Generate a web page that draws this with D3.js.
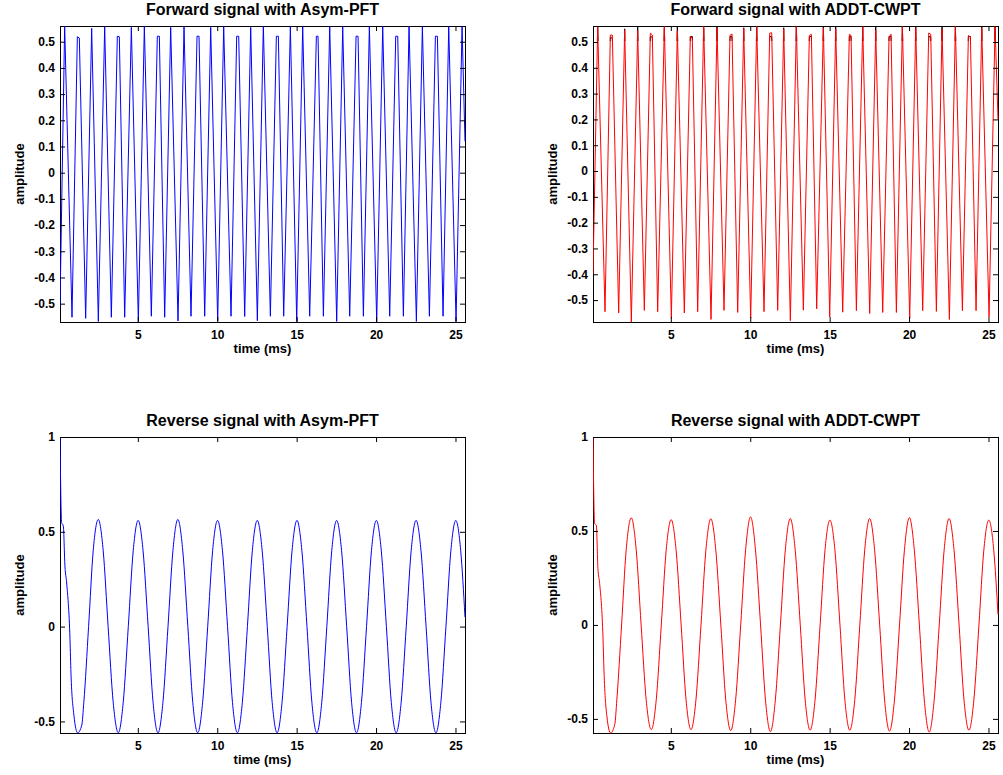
<!DOCTYPE html>
<html>
<head>
<meta charset="utf-8">
<script src="https://d3js.org/d3.v7.min.js"></script>
<style>
  body { margin: 0; background: #fff; }
  text { font-family: Arial, "Liberation Sans", Helvetica, sans-serif; }
</style>
</head>
<body>
<div id="chart"></div>
<script>
// Forward signal: vertices (peaks / troughs), time in ms
var fwdTime = [0.1, 0.394, 0.856, 1.192, 1.317, 1.716, 2.094, 2.514, 2.913, 3.332,
  3.710, 3.836, 4.172, 4.592, 5.033, 5.411, 5.851, 6.229, 6.355, 6.691,
  7.069, 7.531, 7.909, 8.349, 8.727, 8.853, 9.210, 9.588, 10.029, 10.407,
  10.868, 11.225, 11.351, 11.729, 12.107, 12.526, 12.904, 13.345, 13.723, 13.849,
  14.185, 14.605, 15.004, 15.381, 15.822, 16.242, 16.347, 16.683, 17.082, 17.522,
  17.900, 18.341, 18.740, 18.866, 19.202, 19.579, 20.041, 20.419, 20.860, 21.238,
  21.364, 21.720, 22.077, 22.539, 22.917, 23.358, 23.736, 23.862, 24.218, 24.575,
  25.037, 25.415, 25.6];

// original / Asym-PFT reconstruction (identical)
var fwdAsym = [-0.51, 0.561, -0.552, 0.519, 0.514, -0.556, 0.551, -0.568, 0.558, -0.552,
  0.521, 0.519, -0.552, 0.555, -0.568, 0.561, -0.548, 0.521, 0.521, -0.552,
  0.555, -0.566, 0.558, -0.548, 0.521, 0.521, -0.548, 0.555, -0.566, 0.558,
  -0.548, 0.521, 0.521, -0.549, 0.555, -0.565, 0.561, -0.548, 0.521, 0.521,
  -0.548, 0.558, -0.568, 0.558, -0.548, 0.521, 0.521, -0.548, 0.558, -0.568,
  0.558, -0.548, 0.521, 0.521, -0.548, 0.558, -0.568, 0.558, -0.548, 0.521,
  0.521, -0.548, 0.558, -0.568, 0.558, -0.548, 0.521, 0.521, -0.548, 0.558,
  -0.568, 0.558, 0.12];

// ADDT-CWPT reconstruction
var fwdAddt = [-0.40, 0.559, -0.545, 0.527, 0.527, -0.550, 0.547, -0.585, 0.544, -0.540,
  0.534, 0.527, -0.545, 0.560, -0.570, 0.544, -0.550, 0.523, 0.513, -0.545,
  0.560, -0.575, 0.555, -0.540, 0.526, 0.531, -0.548, 0.552, -0.570, 0.560,
  -0.545, 0.534, 0.536, -0.540, 0.550, -0.580, 0.560, -0.539, 0.525, 0.530,
  -0.534, 0.555, -0.565, 0.550, -0.547, 0.530, 0.525, -0.541, 0.560, -0.552,
  0.545, -0.548, 0.520, 0.530, -0.548, 0.560, -0.571, 0.555, -0.541, 0.535,
  0.530, -0.544, 0.550, -0.575, 0.560, -0.541, 0.525, 0.520, -0.541, 0.555,
  -0.565, 0.560, 0.20];

// Reverse signal: points, time in ms
var revTime = [0.10, 0.20, 0.31, 0.41, 0.52, 0.73, 0.79, 0.98, 1.21,
  1.47, 1.60, 1.90, 2.19, 2.51, 2.82, 3.13, 3.45, 3.77, 4.08,
  4.40, 4.71, 5.02, 5.33, 5.65, 5.96, 6.27, 6.58, 6.90, 7.21,
  7.52, 7.83, 8.15, 8.46, 8.77, 9.08, 9.40, 9.71, 10.02, 10.33,
  10.65, 10.96, 11.27, 11.58, 11.90, 12.21, 12.52, 12.83, 13.15, 13.46,
  13.77, 14.08, 14.40, 14.71, 15.02, 15.33, 15.65, 15.96, 16.27, 16.58,
  16.90, 17.21, 17.52, 17.83, 18.15, 18.46, 18.77, 19.08, 19.40, 19.71,
  20.02, 20.33, 20.65, 20.96, 21.27, 21.58, 21.90, 22.21, 22.52, 22.83,
  23.15, 23.46, 23.77, 24.08, 24.40, 24.71, 25.02, 25.33, 25.60];

var revAsym = [1.00, 0.55, 0.53, 0.32, 0.23, -0.07, -0.245, -0.47, -0.56,
  -0.52, -0.40, 0.0, 0.40, 0.565, 0.40, 0.0, -0.40, -0.56, -0.40,
  0.0, 0.40, 0.56, 0.40, 0.0, -0.40, -0.56, -0.40, 0.0, 0.40,
  0.565, 0.40, 0.0, -0.40, -0.56, -0.40, 0.0, 0.40, 0.56, 0.40,
  0.0, -0.40, -0.56, -0.40, 0.0, 0.40, 0.56, 0.40, 0.0, -0.40,
  -0.56, -0.40, 0.0, 0.40, 0.56, 0.40, 0.0, -0.40, -0.56, -0.40,
  0.0, 0.40, 0.56, 0.40, 0.0, -0.40, -0.56, -0.40, 0.0, 0.40,
  0.56, 0.40, 0.0, -0.40, -0.56, -0.40, 0.0, 0.40, 0.56, 0.40,
  0.0, -0.40, -0.56, -0.40, 0.0, 0.40, 0.56, 0.40, 0.05];

var revAddt = [1.00, 0.54, 0.53, 0.30, 0.22, -0.07, -0.24, -0.49, -0.575,
  -0.53, -0.40, 0.0, 0.40, 0.57, 0.40, 0.0, -0.40, -0.557, -0.40,
  0.0, 0.40, 0.56, 0.40, 0.0, -0.40, -0.557, -0.40, 0.0, 0.40,
  0.565, 0.40, 0.0, -0.40, -0.562, -0.40, 0.0, 0.40, 0.575, 0.40,
  0.0, -0.40, -0.568, -0.40, 0.0, 0.40, 0.566, 0.40, 0.0, -0.40,
  -0.56, -0.40, 0.0, 0.40, 0.558, 0.40, 0.0, -0.40, -0.56, -0.40,
  0.0, 0.40, 0.566, 0.40, 0.0, -0.40, -0.565, -0.40, 0.0, 0.40,
  0.571, 0.40, 0.0, -0.40, -0.57, -0.40, 0.0, 0.40, 0.566, 0.40,
  0.0, -0.40, -0.56, -0.40, 0.0, 0.40, 0.558, 0.40, 0.057];

var timeTicks = [5, 10, 15, 20, 25];
var fwdTicks = [-0.5, -0.4, -0.3, -0.2, -0.1, 0, 0.1, 0.2, 0.3, 0.4, 0.5];
var revTicks = [-0.5, 0, 0.5, 1];
var titles = ["Forward signal with Asym-PFT", "Forward signal with ADDT-CWPT",
  "Reverse signal with Asym-PFT", "Reverse signal with ADDT-CWPT"];

var svgWidth = 1003;
var svgHeight = 775;
var plotWidth = 405;
var plotHeight = 296;
var fontFamily = "Arial, 'Liberation Sans', Helvetica, sans-serif";

var svg = d3.select("#chart")
  .append("svg")
  .attr("width", svgWidth)
  .attr("height", svgHeight);

var panels = [
  { left: 60, top: 26, title: titles[0], time: fwdTime, values: fwdAsym, orig: null,
    color: "#0000ff", yDomain: [-0.57, 0.56], yTicks: fwdTicks, curve: d3.curveLinear },
  { left: 593, top: 26, title: titles[1], time: fwdTime, values: fwdAddt, orig: fwdAsym,
    color: "#ff0000", yDomain: [-0.585, 0.562], yTicks: fwdTicks, curve: d3.curveLinear },
  { left: 60, top: 437, title: titles[2], time: revTime, values: revAsym, orig: null,
    color: "#0000ff", yDomain: [-0.561, 1], yTicks: revTicks, curve: d3.curveMonotoneX },
  { left: 593, top: 437, title: titles[3], time: revTime, values: revAddt, orig: null,
    color: "#ff0000", yDomain: [-0.575, 1], yTicks: revTicks, curve: d3.curveMonotoneX }
];

var fmt = function(d) { return String(d); };

panels.forEach(function(p, i) {
  var g = svg.append("g")
    .attr("transform", `translate(${p.left}, ${p.top})`);

  var x = d3.scaleLinear().domain([0.1, 25.6]).range([0, plotWidth]);
  var y = d3.scaleLinear().domain(p.yDomain).range([plotHeight, 0]);

  // box first, the signal is drawn over it
  g.append("rect")
    .attr("x", 0.5)
    .attr("y", 0.5)
    .attr("width", plotWidth)
    .attr("height", plotHeight)
    .attr("fill", "none")
    .attr("stroke", "#000")
    .attr("stroke-width", 1);

  // clip so the lines stop at the box
  g.append("clipPath")
    .attr("id", "clip" + i)
    .append("rect")
    .attr("width", plotWidth + 1)
    .attr("height", plotHeight + 1);

  var line = d3.line()
    .x(function(d) { return x(d[0]); })
    .y(function(d) { return y(d[1]); })
    .curve(p.curve);

  // original signal only shows where it sticks out at the peaks
  if (p.orig) {
    var band = g.append("clipPath").attr("id", "band" + i);
    band.append("rect").attr("width", plotWidth).attr("height", 15);
    band.append("rect").attr("y", plotHeight - 4).attr("width", plotWidth).attr("height", 5);
    g.append("path")
      .datum(d3.zip(p.time, p.orig))
      .attr("clip-path", `url(#band${i})`)
      .attr("fill", "none")
      .attr("stroke", "#000")
      .attr("stroke-width", 1)
      .attr("d", line);
  }

  g.append("path")
    .datum(d3.zip(p.time, p.values))
    .attr("clip-path", `url(#clip${i})`)
    .attr("fill", "none")
    .attr("stroke", p.color)
    .attr("stroke-width", 1)
    .attr("d", line);

  // axes with inward ticks on all four sides
  var bottom = g.append("g")
    .attr("transform", `translate(0, ${plotHeight})`)
    .call(d3.axisBottom(x).tickValues(timeTicks).tickSize(-5).tickPadding(8).tickFormat(fmt));
  var topAx = g.append("g")
    .call(d3.axisTop(x).tickValues(timeTicks).tickSize(-5).tickFormat(""));
  var left = g.append("g")
    .call(d3.axisLeft(y).tickValues(p.yTicks).tickSize(-5).tickPadding(5).tickFormat(fmt));
  var right = g.append("g")
    .attr("transform", `translate(${plotWidth}, 0)`)
    .call(d3.axisRight(y).tickValues(p.yTicks).tickSize(-5).tickFormat(""));

  [bottom, topAx, left, right].forEach(function(a) {
    a.select(".domain").remove();
    a.attr("font-family", fontFamily)
      .attr("font-size", 12)
      .attr("font-weight", "bold");
    a.selectAll("line").attr("stroke", "#000");
    a.selectAll("text").attr("fill", "#000");
  });

  g.append("text")
    .attr("x", plotWidth / 2)
    .attr("y", -11)
    .attr("text-anchor", "middle")
    .style("font-size", "16px")
    .style("font-weight", "bold")
    .text(p.title);

  g.append("text")
    .attr("x", plotWidth / 2)
    .attr("y", plotHeight + 31)
    .attr("text-anchor", "middle")
    .style("font-size", "13px")
    .style("font-weight", "bold")
    .text("time (ms)");

  g.append("text")
    .attr("transform", "rotate(-90)")
    .attr("x", -plotHeight / 2)
    .attr("y", -36)
    .attr("text-anchor", "middle")
    .style("font-size", "13px")
    .style("font-weight", "bold")
    .text("amplitude");
});
</script>
</body>
</html>
